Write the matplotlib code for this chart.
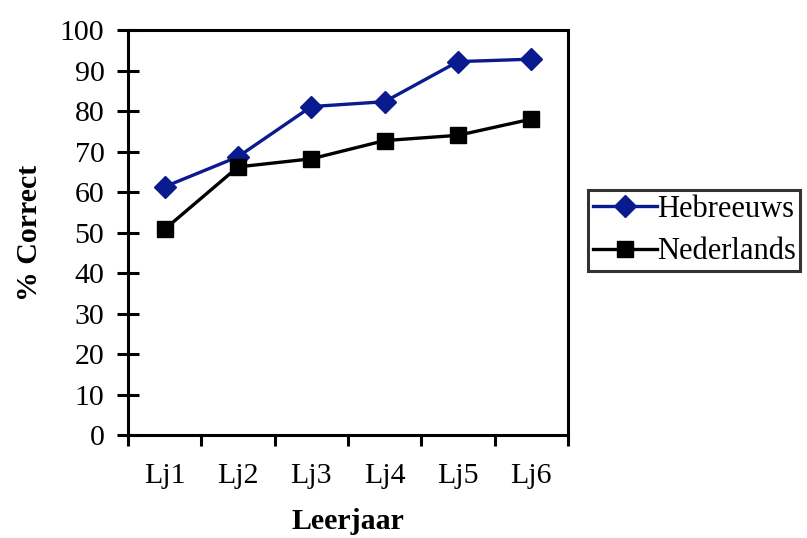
import matplotlib.pyplot as plt

# data
grades = ['Lj1', 'Lj2', 'Lj3', 'Lj4', 'Lj5', 'Lj6']
hebreeuws = [61.3, 68.7, 81.1, 82.3, 92.2, 92.8]
nederlands = [50.8, 66.2, 68.2, 72.7, 74.0, 78.0]
yticks = [0, 10, 20, 30, 40, 50, 60, 70, 80, 90, 100]

plt.rcParams['font.family'] = ['Liberation Serif', 'DejaVu Serif']

fig = plt.figure(figsize=(8.07, 5.38), dpi=100)
ax = fig.add_axes([0.1586, 0.1914, 0.5452, 0.7528])

x = range(len(grades))
ax.plot(x, hebreeuws, color='#0A1A8F', linewidth=2.4, marker='D', markersize=11.5,
        label='Hebreeuws')
ax.plot(x, nederlands, color='black', linewidth=2.4, marker='s', markersize=12,
        label='Nederlands')

ax.set_xlim(-0.5, len(grades) - 0.5)
ax.set_ylim(0, 100)
ax.set_yticks(yticks)
ax.tick_params(axis='y', labelsize=21.5, direction='inout', length=16, width=2.2, pad=9)

# category ticks between the points, labels under the points
ax.set_xticks([i - 0.5 for i in range(len(grades) + 1)])
ax.set_xticklabels([])
ax.set_xticks(list(x), minor=True)
ax.set_xticklabels(grades, minor=True, fontsize=21.5)
ax.tick_params(axis='x', which='major', direction='out', length=8, width=2.2)
ax.tick_params(axis='x', which='minor', length=0, pad=20)

for s in ax.spines.values():
    s.set_linewidth(2.2)

ax.set_xlabel('Leerjaar', fontsize=21.5, fontweight='bold', labelpad=14)
ax.set_ylabel('% Correct', fontsize=21.5, fontweight='bold', labelpad=12)

leg = fig.legend(loc='upper left', bbox_to_anchor=(0.7286, 0.6468), fontsize=22,
                 frameon=True, fancybox=False, handlelength=2.1, handletextpad=0.0,
                 borderpad=0.15, labelspacing=0.45, borderaxespad=0)
leg.get_frame().set_edgecolor('black')
leg.get_frame().set_linewidth(2.2)

plt.savefig('out.png', dpi=100)
plt.close()
